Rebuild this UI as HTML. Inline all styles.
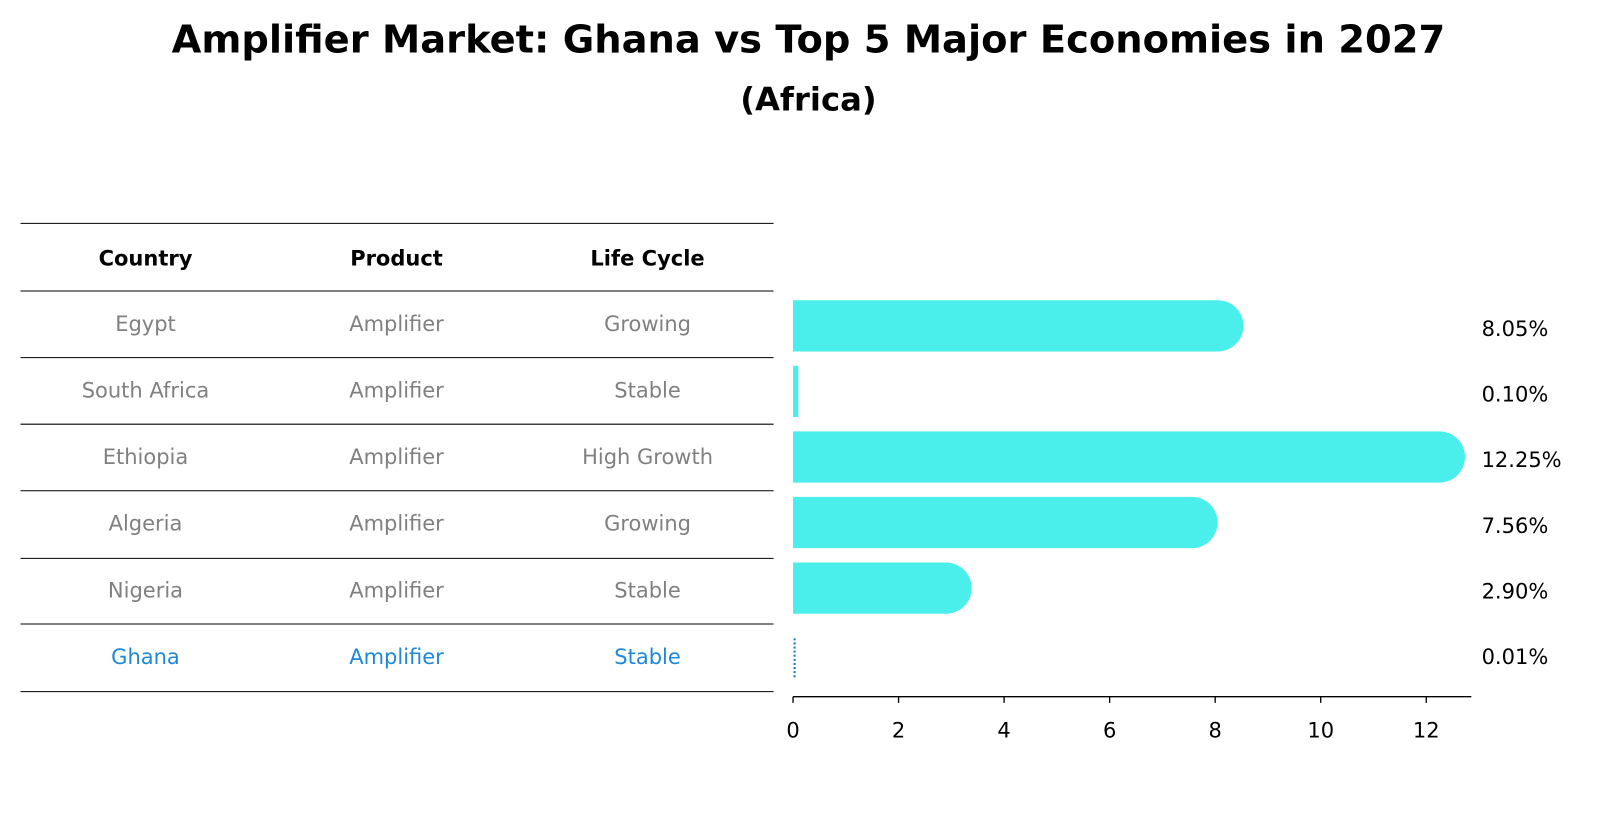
<!DOCTYPE html>
<html><head><meta charset="utf-8"><style>
body{margin:0;background:#fff;}
</style></head><body>
<svg id="c" width="1604" height="823" xmlns="http://www.w3.org/2000/svg" font-family="'DejaVu Sans', 'Liberation Sans', sans-serif">
<g transform="scale(1.0246)">
<text x="789" y="51" text-anchor="middle" font-size="37.5" font-weight="bold">Amplifier Market: Ghana vs Top 5 Major Economies in 2027</text>
<text x="789" y="108" text-anchor="middle" font-size="31.5" font-weight="bold">(Africa)</text>
<g id="table"></g>
<g id="bars"></g>
</g>
</svg>
<script>
const countries=["Egypt","South Africa","Ethiopia","Algeria","Nigeria","Ghana"];
const products=["Amplifier","Amplifier","Amplifier","Amplifier","Amplifier","Amplifier"];
const lifeCycles=["Growing","Stable","High Growth","Growing","Stable","Stable"];
const values=[8.05,0.10,12.25,7.56,2.90,0.01];
const valueLabels=["8.05%","0.10%","12.25%","7.56%","2.90%","0.01%"];
const xTicks=[0,2,4,6,8,10,12];
const highlight="Ghana";

const NS="http://www.w3.org/2000/svg";
function mk(tag,attrs,parent){const e=document.createElementNS(NS,tag);for(const k in attrs)e.setAttribute(k,attrs[k]);parent.appendChild(e);return e;}
const tbl=document.getElementById('table');
const bars=document.getElementById('bars');
const x=v=>774+v*51.5;
const rowY=i=>318+i*64;
const lineYs=[218,284,349,414,479,545,609,675];
lineYs.forEach(ly=>{const l=mk('line',{x1:20,x2:755,y1:ly,y2:ly,stroke:'#000','stroke-width':1},tbl);

});
const colX=[142,387,632];
["Country","Product","Life Cycle"].forEach((h,j)=>{const t=mk('text',{x:colX[j],y:259,'text-anchor':'middle','font-size':20.5,'font-weight':'bold'},tbl);t.textContent=h;

});
countries.forEach((c,i)=>{
  const col=c===highlight?'#1f88d8':'#808080';
  const ty=323+i*65;
  [c,products[i],lifeCycles[i]].forEach((v,j)=>{const t=mk('text',{x:colX[j],y:ty,'text-anchor':'middle','font-size':20.5,fill:col},tbl);t.textContent=v;
  
  });
});
values.forEach((v,i)=>{
  const cy=rowY(i),h=50,r=25;
  if(countries[i]===highlight){
    const l=mk('line',{x1:x(v)+1,x2:x(v)+1,y1:cy-h/2+10,y2:cy+h/2-2,stroke:'#1f77b4','stroke-width':2,'stroke-dasharray':'2,2'},bars);
    
    
  } else {
    const w=x(v)-x(0);
    let d;
    if(w>r){d=`M${x(0)},${cy-h/2} H${x(v)} A${r},${r} 0 0 1 ${x(v)},${cy+h/2} H${x(0)} Z`;}
    else {d=`M${x(0)},${cy-h/2} H${x(0)+Math.max(w,5)} V${cy+h/2} H${x(0)} Z`;}
    const p=mk('path',{d:d,fill:'#4aeeea'},bars);
    
    
  }
  const t=mk('text',{x:1446,y:cy+10,'font-size':20.5},bars);t.textContent=valueLabels[i];
  
  
});
const ax=mk('line',{x1:774,x2:1436,y1:680,y2:680,stroke:'#000','stroke-width':1.3},bars);


xTicks.forEach(tv=>{
  const tk=mk('line',{x1:x(tv),x2:x(tv),y1:680,y2:686,stroke:'#000','stroke-width':1.3},bars);
  
  
  const t=mk('text',{x:x(tv),y:720,'text-anchor':'middle','font-size':20.5},bars);t.textContent=tv;
  
  
});
</script>
</body></html>
